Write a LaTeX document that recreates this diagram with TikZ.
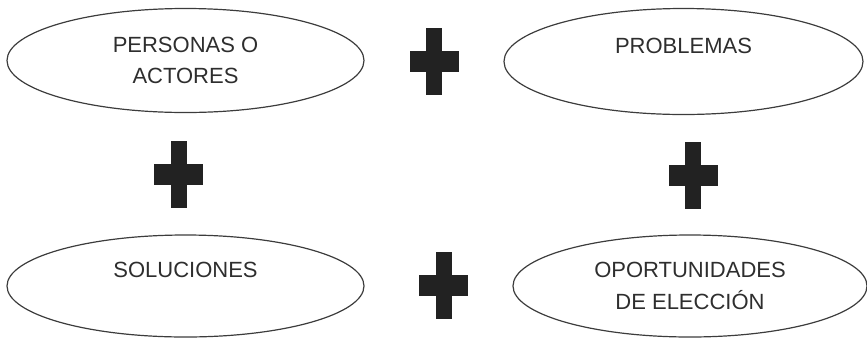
\documentclass[tikz,border=0pt]{standalone}
\usepackage{fontspec}
\setmainfont{Liberation Sans}
\usetikzlibrary{shapes.geometric, positioning}
\definecolor{trazo}{HTML}{3C3C3C}
\definecolor{texto}{HTML}{2E2E2E}
\definecolor{relleno}{HTML}{222222}
\tikzstyle{elipse} = [
    ellipse, draw=trazo, line width=1.2pt, inner sep=0pt,
    minimum width=357pt, minimum height=104pt, text=texto,
    align=center, font=\fontsize{22}{31.5}\selectfont
]
\tikzset{
    cruz/.pic={
        \fill[relleno] (-24.5,-10.5) rectangle (24.5,10.5);
        \fill[relleno] (-8,-33.5) rectangle (8,33.5);
    }
}

\begin{document}
\begin{tikzpicture}[x=1pt, y=-1pt]
    \useasboundingbox (0,0) rectangle (867,338);

    % Elipses
    \node[elipse] (personas) at (185.5,60.5) {PERSONAS O\\ACTORES};
    \node[elipse, minimum width=359pt, minimum height=106pt] (problemas) at (683.5,61.5) {PROBLEMAS\\\phantom{X}};
    \node[elipse, minimum height=102pt] (soluciones) at (185.5,286) {SOLUCIONES\\\phantom{X}};
    \node[elipse, minimum width=354pt, minimum height=102pt] (oportunidades) at (690,286) {OPORTUNIDADES\\DE ELECCI\'ON};

    % Signos mas
    \pic (mas1) at (434,61) {cruz};
    \pic (mas2) at (178.5,174.5) {cruz};
    \pic (mas3) at (693,175.5) {cruz};
    \pic (mas4) at (443.5,285) {cruz};

\end{tikzpicture}
\end{document}
